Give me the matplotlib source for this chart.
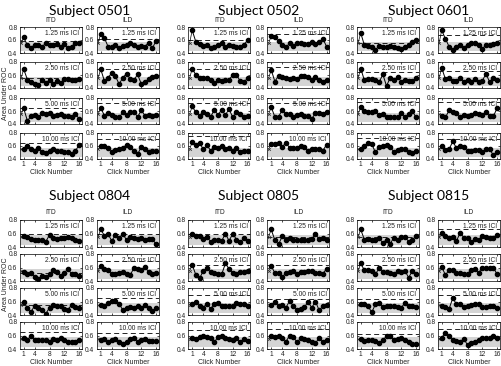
import numpy as np
import matplotlib
matplotlib.use("Agg")
import matplotlib.pyplot as plt

plt.rcParams['font.family'] = ['Liberation Sans', 'DejaVu Sans']

subjects = ["0501", "0502", "0601", "0804", "0805", "0815"]
cues = ["ITD", "ILD"]
icis = ["1.25 ms ICI", "2.50 ms ICI", "5.00 ms ICI", "10.00 ms ICI"]
clicks = np.arange(1, 17)

# area under ROC per click, rows = ICI (1.25, 2.50, 5.00, 10.00)
auc_0501_itd = [
    [0.64, 0.52, 0.48, 0.53, 0.52, 0.49, 0.56, 0.53, 0.53, 0.54, 0.50, 0.54, 0.48, 0.50, 0.56, 0.55],
    [0.69, 0.53, 0.50, 0.46, 0.44, 0.52, 0.47, 0.53, 0.46, 0.51, 0.47, 0.54, 0.54, 0.53, 0.52, 0.54],
    [0.64, 0.45, 0.52, 0.54, 0.50, 0.57, 0.55, 0.57, 0.52, 0.54, 0.55, 0.52, 0.53, 0.50, 0.56, 0.48],
    [0.56, 0.60, 0.55, 0.53, 0.57, 0.50, 0.49, 0.53, 0.56, 0.52, 0.53, 0.50, 0.50, 0.47, 0.52, 0.62],
]
auc_0501_ild = [
    [0.70, 0.63, 0.50, 0.50, 0.53, 0.47, 0.51, 0.53, 0.55, 0.52, 0.50, 0.51, 0.50, 0.56, 0.47, 0.59],
    [0.69, 0.51, 0.56, 0.63, 0.58, 0.46, 0.56, 0.62, 0.54, 0.52, 0.61, 0.46, 0.49, 0.54, 0.57, 0.59],
    [0.65, 0.53, 0.57, 0.54, 0.51, 0.50, 0.58, 0.54, 0.58, 0.59, 0.51, 0.61, 0.53, 0.54, 0.53, 0.54],
    [0.60, 0.60, 0.57, 0.50, 0.54, 0.55, 0.57, 0.62, 0.59, 0.53, 0.47, 0.59, 0.56, 0.50, 0.52, 0.52],
]
auc_0502_itd = [
    [0.75, 0.57, 0.54, 0.51, 0.52, 0.47, 0.49, 0.52, 0.55, 0.50, 0.52, 0.51, 0.49, 0.49, 0.52, 0.60],
    [0.70, 0.60, 0.55, 0.56, 0.56, 0.52, 0.48, 0.52, 0.51, 0.53, 0.53, 0.60, 0.60, 0.51, 0.49, 0.55],
    [0.67, 0.58, 0.53, 0.59, 0.56, 0.51, 0.62, 0.54, 0.62, 0.54, 0.63, 0.50, 0.58, 0.56, 0.51, 0.52],
    [0.66, 0.62, 0.65, 0.55, 0.61, 0.53, 0.59, 0.57, 0.60, 0.56, 0.57, 0.53, 0.57, 0.51, 0.53, 0.52],
]
auc_0502_ild = [
    [0.66, 0.64, 0.58, 0.52, 0.49, 0.55, 0.51, 0.56, 0.55, 0.54, 0.54, 0.57, 0.54, 0.57, 0.62, 0.50],
    [0.68, 0.50, 0.59, 0.57, 0.55, 0.54, 0.55, 0.54, 0.59, 0.59, 0.57, 0.53, 0.57, 0.53, 0.50, 0.53],
    [0.66, 0.51, 0.51, 0.62, 0.55, 0.55, 0.50, 0.54, 0.55, 0.53, 0.52, 0.48, 0.57, 0.57, 0.56, 0.58],
    [0.63, 0.63, 0.65, 0.59, 0.65, 0.57, 0.57, 0.57, 0.60, 0.58, 0.52, 0.55, 0.56, 0.56, 0.53, 0.62],
]
auc_0601_itd = [
    [0.71, 0.52, 0.51, 0.49, 0.45, 0.51, 0.50, 0.49, 0.51, 0.49, 0.47, 0.46, 0.49, 0.52, 0.57, 0.60],
    [0.70, 0.52, 0.54, 0.54, 0.53, 0.49, 0.61, 0.43, 0.56, 0.52, 0.57, 0.50, 0.52, 0.51, 0.51, 0.55],
    [0.66, 0.60, 0.58, 0.58, 0.60, 0.54, 0.56, 0.51, 0.51, 0.50, 0.50, 0.57, 0.51, 0.55, 0.60, 0.50],
    [0.56, 0.60, 0.65, 0.63, 0.50, 0.58, 0.60, 0.62, 0.58, 0.51, 0.54, 0.56, 0.56, 0.50, 0.49, 0.52],
]
auc_0601_ild = [
    [0.75, 0.62, 0.50, 0.45, 0.50, 0.53, 0.48, 0.53, 0.56, 0.55, 0.53, 0.46, 0.53, 0.53, 0.54, 0.56],
    [0.71, 0.54, 0.56, 0.51, 0.51, 0.55, 0.50, 0.52, 0.50, 0.54, 0.50, 0.51, 0.62, 0.49, 0.56, 0.53],
    [0.53, 0.50, 0.61, 0.58, 0.57, 0.51, 0.54, 0.52, 0.54, 0.57, 0.56, 0.54, 0.59, 0.52, 0.52, 0.64],
    [0.60, 0.54, 0.55, 0.67, 0.57, 0.60, 0.58, 0.52, 0.53, 0.54, 0.54, 0.50, 0.55, 0.55, 0.46, 0.50],
]
auc_0804_itd = [
    [0.57, 0.55, 0.52, 0.51, 0.51, 0.51, 0.48, 0.58, 0.53, 0.52, 0.54, 0.53, 0.55, 0.53, 0.51, 0.49],
    [0.53, 0.50, 0.52, 0.46, 0.43, 0.48, 0.46, 0.50, 0.56, 0.54, 0.47, 0.52, 0.58, 0.50, 0.50, 0.48],
    [0.60, 0.50, 0.45, 0.54, 0.50, 0.48, 0.42, 0.51, 0.55, 0.53, 0.53, 0.49, 0.48, 0.55, 0.52, 0.50],
    [0.57, 0.53, 0.60, 0.53, 0.53, 0.53, 0.54, 0.50, 0.55, 0.54, 0.56, 0.54, 0.51, 0.51, 0.51, 0.53],
]
auc_0804_ild = [
    [0.66, 0.57, 0.59, 0.49, 0.58, 0.53, 0.60, 0.50, 0.55, 0.53, 0.52, 0.54, 0.51, 0.52, 0.52, 0.44],
    [0.62, 0.58, 0.56, 0.51, 0.51, 0.52, 0.53, 0.51, 0.49, 0.59, 0.58, 0.57, 0.61, 0.53, 0.51, 0.52],
    [0.55, 0.53, 0.58, 0.61, 0.61, 0.57, 0.47, 0.51, 0.52, 0.51, 0.54, 0.51, 0.55, 0.50, 0.46, 0.50],
    [0.54, 0.55, 0.50, 0.54, 0.55, 0.51, 0.48, 0.50, 0.55, 0.57, 0.50, 0.54, 0.55, 0.52, 0.52, 0.52],
]
auc_0805_itd = [
    [0.59, 0.57, 0.57, 0.52, 0.55, 0.48, 0.50, 0.50, 0.49, 0.60, 0.49, 0.60, 0.51, 0.47, 0.53, 0.49],
    [0.64, 0.49, 0.44, 0.55, 0.59, 0.53, 0.52, 0.50, 0.50, 0.66, 0.58, 0.52, 0.50, 0.53, 0.54, 0.55],
    [0.57, 0.59, 0.54, 0.51, 0.57, 0.49, 0.57, 0.58, 0.54, 0.53, 0.54, 0.53, 0.58, 0.57, 0.57, 0.54],
    [0.56, 0.55, 0.58, 0.60, 0.58, 0.57, 0.50, 0.58, 0.60, 0.56, 0.55, 0.53, 0.57, 0.50, 0.55, 0.52],
]
auc_0805_ild = [
    [0.66, 0.50, 0.44, 0.56, 0.50, 0.54, 0.50, 0.51, 0.51, 0.51, 0.50, 0.52, 0.59, 0.52, 0.54, 0.50],
    [0.62, 0.52, 0.52, 0.46, 0.52, 0.53, 0.55, 0.50, 0.53, 0.53, 0.55, 0.55, 0.52, 0.52, 0.51, 0.58],
    [0.55, 0.60, 0.53, 0.55, 0.51, 0.61, 0.53, 0.48, 0.49, 0.52, 0.59, 0.51, 0.60, 0.47, 0.53, 0.55],
    [0.59, 0.58, 0.60, 0.57, 0.51, 0.60, 0.58, 0.50, 0.56, 0.55, 0.54, 0.51, 0.49, 0.56, 0.50, 0.54],
]
auc_0815_itd = [
    [0.66, 0.51, 0.52, 0.50, 0.51, 0.53, 0.46, 0.51, 0.45, 0.54, 0.50, 0.55, 0.55, 0.48, 0.50, 0.57],
    [0.66, 0.56, 0.57, 0.55, 0.50, 0.59, 0.53, 0.53, 0.52, 0.50, 0.55, 0.53, 0.55, 0.45, 0.55, 0.50],
    [0.56, 0.56, 0.53, 0.44, 0.56, 0.58, 0.52, 0.54, 0.53, 0.53, 0.52, 0.51, 0.58, 0.53, 0.53, 0.52],
    [0.55, 0.52, 0.53, 0.53, 0.52, 0.49, 0.53, 0.59, 0.60, 0.53, 0.55, 0.57, 0.54, 0.50, 0.48, 0.48],
]
auc_0815_ild = [
    [0.61, 0.56, 0.53, 0.55, 0.49, 0.61, 0.54, 0.53, 0.48, 0.52, 0.50, 0.57, 0.55, 0.53, 0.54, 0.58],
    [0.61, 0.49, 0.56, 0.57, 0.52, 0.52, 0.51, 0.51, 0.56, 0.58, 0.52, 0.60, 0.59, 0.59, 0.60, 0.50],
    [0.53, 0.52, 0.49, 0.65, 0.56, 0.57, 0.52, 0.54, 0.55, 0.57, 0.56, 0.52, 0.52, 0.54, 0.53, 0.50],
    [0.57, 0.64, 0.59, 0.53, 0.52, 0.51, 0.55, 0.46, 0.49, 0.51, 0.53, 0.56, 0.57, 0.57, 0.59, 0.57],
]

# dashed criterion level per ICI (None = not shown)
crit_0501_itd = [0.58, 0.55, 0.64, 0.64]
crit_0501_ild = [0.62, 0.70, 0.72, 0.70]
crit_0502_itd = [0.60, 0.70, 0.72, 0.75]
crit_0502_ild = [0.70, 0.72, 0.72, None]
crit_0601_itd = [0.55, 0.65, 0.74, 0.72]
crit_0601_ild = [0.68, 0.66, 0.74, 0.70]
crit_0804_itd = [0.60, 0.52, 0.55, 0.65]
crit_0804_ild = [0.60, 0.70, 0.65, 0.64]
crit_0805_itd = [0.60, 0.64, 0.70, 0.68]
crit_0805_ild = [0.55, 0.64, 0.64, 0.70]
crit_0815_itd = [0.55, 0.64, 0.64, 0.62]
crit_0815_ild = [0.66, 0.66, 0.70, 0.70]

# gray band (chance range) and starting 'x' value
band_lo, band_hi = 0.43, 0.575
start_val = 0.55

auc = {
    ("0501", "ITD"): auc_0501_itd, ("0501", "ILD"): auc_0501_ild,
    ("0502", "ITD"): auc_0502_itd, ("0502", "ILD"): auc_0502_ild,
    ("0601", "ITD"): auc_0601_itd, ("0601", "ILD"): auc_0601_ild,
    ("0804", "ITD"): auc_0804_itd, ("0804", "ILD"): auc_0804_ild,
    ("0805", "ITD"): auc_0805_itd, ("0805", "ILD"): auc_0805_ild,
    ("0815", "ITD"): auc_0815_itd, ("0815", "ILD"): auc_0815_ild,
}
crit = {
    ("0501", "ITD"): crit_0501_itd, ("0501", "ILD"): crit_0501_ild,
    ("0502", "ITD"): crit_0502_itd, ("0502", "ILD"): crit_0502_ild,
    ("0601", "ITD"): crit_0601_itd, ("0601", "ILD"): crit_0601_ild,
    ("0804", "ITD"): crit_0804_itd, ("0804", "ILD"): crit_0804_ild,
    ("0805", "ITD"): crit_0805_itd, ("0805", "ILD"): crit_0805_ild,
    ("0815", "ITD"): crit_0815_itd, ("0815", "ILD"): crit_0815_ild,
}

W, H = 502, 366
fig = plt.figure(figsize=(W / 100, H / 100), dpi=100)

pw = 62
row_tops = [[27, 62, 98, 133], [220, 254, 288, 322]]
row_h = [26, 27]
title_y = [11, 196]
cue_y = [21, 212]

for si, subj in enumerate(subjects):
    half = si // 3
    col = si % 3
    lefts = [20 + 168.5 * col, 97 + 170.5 * col]
    fig.text((lefts[0] + lefts[1] + pw) / 2 / W, 1 - title_y[half] / H,
             "Subject " + subj, ha="center", va="center", fontsize=10,
             family=["Lato", "DejaVu Sans"])
    for ci, cue in enumerate(cues):
        fig.text((lefts[ci] + pw / 2) / W, 1 - cue_y[half] / H, cue,
                 ha="center", va="center", fontsize=4.8, color="#222222")
        for ri, ici in enumerate(icis):
            top = row_tops[half][ri]
            h = row_h[half]
            ax = fig.add_axes([lefts[ci] / W, 1 - (top + h) / H, pw / W, h / H])
            ax.axhspan(band_lo, band_hi, color="#d4d4d4", lw=0, zorder=0)
            c = crit[(subj, cue)][ri]
            if c is not None:
                ax.axhline(c, color="black", lw=0.6, dashes=(6, 4), zorder=1)
            y = auc[(subj, cue)][ri]
            ax.plot([0.3, 1], [start_val, y[0]], color="black", lw=0.5, zorder=2)
            ax.plot(0.3, start_val, marker="x", color="#333333", ms=2, mew=0.5, zorder=3)
            ax.plot(clicks, y, color="black", lw=0.7, marker="o", ms=3.0, zorder=3)
            ax.text(0.96, 0.88, ici, transform=ax.transAxes, ha="right", va="top",
                    fontsize=4.8, color="#222222", zorder=4)
            ax.set_xlim(0, 16.8)
            ax.set_ylim(0.4, 0.8)
            ax.set_yticks([0.4, 0.6, 0.8])
            ax.set_yticklabels(["0.4", "0.6", "0.8"])
            ax.set_xticks([1, 4, 8, 12, 16])
            ax.tick_params(direction="in", length=1.5, width=0.5, labelsize=4.8,
                           pad=1.8, top=True, right=True, labelcolor="#222222")
            for sp in ax.spines.values():
                sp.set_linewidth(0.5)
            if ri == 3:
                ax.set_xticklabels(["1", "4", "8", "12", "16"])
                ax.set_xlabel("Click Number", fontsize=5, labelpad=0.5, color="#222222")
            else:
                ax.set_xticklabels([])
    if col == 0:
        ymid = (row_tops[half][0] + row_tops[half][3] + row_h[half]) / 2
        fig.text(6 / W, 1 - ymid / H, "Area Under ROC", rotation=90,
                 ha="center", va="center", fontsize=5, color="#222222")

fig.savefig("out.png", dpi=100)
